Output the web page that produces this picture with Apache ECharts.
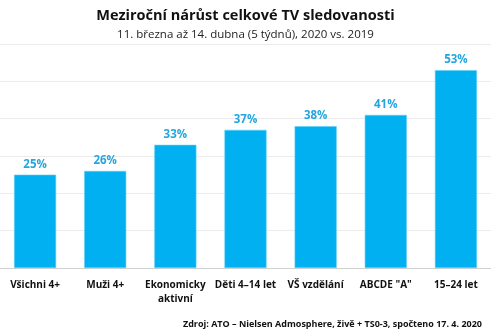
<!DOCTYPE html>
<html><head><meta charset="utf-8">
<script src="https://cdn.jsdelivr.net/npm/echarts@6/dist/echarts.min.js"></script>
<style>html,body{margin:0;padding:0;background:#fff}#c{width:491px;height:332px}</style>
</head><body><div id="c"></div>
<script>
const categories = ['Všichni 4+', 'Muži 4+', 'Ekonomicky\naktivní', 'Děti 4–14 let', 'VŠ vzdělání', 'ABCDE "A"', '15–24 let'];
const values = [25, 26, 33, 37, 38, 41, 53];
const yTicks = [0, 10, 20, 30, 40, 50, 60];
const FONT = 'Open Sans';
const chart = echarts.init(document.getElementById('c'));
chart.setOption({
  animation: false,
  title: [
    {text: 'Meziroční nárůst celkové TV sledovanosti', left: 'center', top: 3,
     textStyle: {fontFamily: FONT, fontSize: 14.5, fontWeight: 'bold', color: '#111'}},
    {text: '11. března až 14. dubna (5 týdnů), 2020 vs. 2019', left: 'center', top: 24,
     textStyle: {fontFamily: FONT, fontSize: 11.5, fontWeight: 'normal', color: '#222'}},
    {text: 'Zdroj: ATO – Nielsen Admosphere, živě + TS0-3, spočteno 17. 4. 2020', right: 4, top: 315,
     textStyle: {fontFamily: FONT, fontSize: 9, fontWeight: 'bold', color: '#111'}}
  ],
  grid: {left: 0, right: 0, top: 44, bottom: 64, containLabel: false},
  xAxis: {type: 'category', data: categories,
    axisLine: {lineStyle: {color: '#d0d0d0'}}, axisTick: {show: false},
    axisLabel: {fontFamily: FONT, fontSize: 10, fontWeight: 'bold', color: '#111', margin: 10, lineHeight: 14, interval: 0}},
  yAxis: {type: 'value', min: yTicks[0], max: yTicks[yTicks.length-1], interval: 10,
    axisLabel: {show: false}, axisLine: {show: false}, axisTick: {show: false},
    splitLine: {lineStyle: {color: '#ececec'}}},
  series: [{type: 'bar', data: values, barWidth: '60%',
    itemStyle: {color: '#00b0f0', borderColor: '#5fd0f8', borderWidth: 0.6},
    label: {show: true, position: 'top', formatter: '{c}%', distance: 4,
      fontFamily: FONT, fontSize: 11.5, fontWeight: 'bold', color: '#23a6e0'}}]
});
</script></body></html>
